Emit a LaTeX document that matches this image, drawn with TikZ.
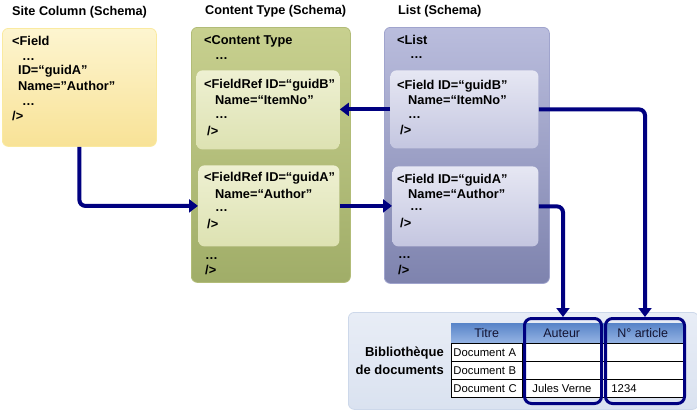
\documentclass[tikz,border=0pt]{standalone}
\usepackage{fontspec}
\setmainfont{Liberation Sans}
\usetikzlibrary{arrows.meta}
\definecolor{navy}{HTML}{000080}
\tikzset{
  panel/.style={anchor=north west, inner sep=0pt, rounded corners=6pt, line width=0.8pt},
  yel/.style={panel, draw={rgb,255:red,250;green,234;blue,160}, top color={rgb,255:red,253;green,245;blue,208}, bottom color={rgb,255:red,248;green,226;blue,150}},
  grn/.style={panel, draw={rgb,255:red,178;green,188;blue,120}, top color={rgb,255:red,200;green,208;blue,143}, bottom color={rgb,255:red,160;green,173;blue,104}},
  grnin/.style={panel, draw=none, top color={rgb,255:red,238;green,240;blue,210}, bottom color={rgb,255:red,221;green,226;blue,178}},
  blu/.style={panel, draw={rgb,255:red,160;green,164;blue,205}, top color={rgb,255:red,186;green,189;blue,221}, bottom color={rgb,255:red,126;green,131;blue,174}},
  bluin/.style={panel, draw=none, top color={rgb,255:red,230;green,231;blue,243}, bottom color={rgb,255:red,196;green,198;blue,224}},
  bot/.style={panel, draw={rgb,255:red,205;green,216;blue,234}, top color={rgb,255:red,232;green,237;blue,246}, bottom color={rgb,255:red,218;green,226;blue,240}},
  ttl/.style={anchor=west, inner sep=0pt, font=\fontsize{12.7}{14}\selectfont\bfseries},
  code/.style={anchor=west, inner sep=0pt, font=\fontsize{12.8}{14}\selectfont\bfseries},
  dots/.style={anchor=west, inner sep=0pt, font=\fontsize{12.8}{14}\selectfont\bfseries, text height=2pt, text depth=0pt},
  conn/.style={draw=navy, line width=4pt, rounded corners=6pt, -{Triangle[width=13pt,length=9pt]}},
  hdr/.style={anchor=north west, inner sep=0pt, minimum height=20pt, font=\fontsize{12.5}{14}\selectfont, text={rgb,255:red,20;green,20;blue,50}, top color={rgb,255:red,88;green,132;blue,200}, bottom color={rgb,255:red,150;green,180;blue,228}},
  cell/.style={anchor=north west, inner sep=0pt, draw=black, line width=0.9pt, fill=white, font=\fontsize{11.3}{12}\selectfont},
  hl/.style={anchor=north west, inner sep=0pt, draw=navy, line width=3pt, rounded corners=7pt}
}
\begin{document}
\begin{tikzpicture}[x=1pt,y=-1pt]
\useasboundingbox (0,0) rectangle (697,410);
% titles
\node[ttl] (t1) at (12,12) {Site Column (Schema)};
\node[ttl] (t2) at (205,11) {Content Type (Schema)};
\node[ttl] (t3) at (398,11) {List (Schema)};
% site column
\node[yel, minimum width=154pt, minimum height=118pt] (yc) at (2,28) {};
\node[code] (y1) at (12,41) {<Field};
\node[dots] (y2) at (22,59) {…};
\node[code] (y3) at (18,71) {ID=“guidA”};
\node[code] (y4) at (18,86) {Name=”Author”};
\node[dots] (y5) at (22,104) {…};
\node[code] (y6) at (12,116) {/>};
% content type
\node[grn, minimum width=159pt, minimum height=255pt] (ct) at (191,27) {};
\node[code] (c1) at (204,41) {<Content Type};
\node[dots] (c2) at (215,58) {…};
\node[grnin, minimum width=143pt, minimum height=79pt] (gi1) at (196,70) {};
\node[code] (c3) at (204,85) {<FieldRef ID=“guidB”};
\node[code] (c4) at (215,100) {Name=“ItemNo”};
\node[dots] (c5) at (215,117) {…};
\node[code] (c6) at (207,131) {/>};
\node[grnin, minimum width=141pt, minimum height=81pt] (gi2) at (198,165) {};
\node[code] (c7) at (204,178) {<FieldRef ID=“guidA”};
\node[code] (c8) at (215,194) {Name=“Author”};
\node[dots] (c9) at (215,210) {…};
\node[code] (c10) at (207,224) {/>};
\node[dots] (c11) at (205,258) {…};
\node[code] (c12) at (205,270) {/>};
% list
\node[blu, minimum width=165pt, minimum height=256pt] (ls) at (384,27) {};
\node[code] (l1) at (397,40) {<List};
\node[dots] (l2) at (410,57) {…};
\node[bluin, minimum width=148pt, minimum height=78pt] (bi1) at (390,70) {};
\node[code] (l3) at (397,86) {<Field ID=“guidB”};
\node[code] (l4) at (408,100) {Name=“ItemNo”};
\node[dots] (l5) at (408,117) {…};
\node[code] (l6) at (400,130) {/>};
\node[bluin, minimum width=146pt, minimum height=80pt] (bi2) at (392,166) {};
\node[code] (l7) at (397,180) {<Field ID=“guidA”};
\node[code] (l8) at (408,194) {Name=“Author”};
\node[dots] (l9) at (410,209) {…};
\node[code] (l10) at (400,223) {/>};
\node[dots] (l11) at (398,257) {…};
\node[code] (l12) at (398,270) {/>};
% bottom panel
\node[bot, minimum width=350pt, minimum height=97pt] (bp) at (348,312) {};
\node[anchor=east, inner sep=0pt, align=right, font=\fontsize{13}{18}\selectfont\bfseries] (lib) at (444,361) {Bibliothèque\\de documents};
% table header
\node[hdr, minimum width=71pt] (h1) at (451,323) {Titre};
\node[hdr, minimum width=79pt] (h2) at (522,323) {Auteur};
\node[hdr, minimum width=83pt] (h3) at (601,323) {N° article};
% rows
\node[cell, minimum width=71pt, minimum height=18pt, text width=69pt, align=left] (r1a) at (451,343) {\hspace*{1pt}Document A};
\node[cell, minimum width=79pt, minimum height=18pt] (r1b) at (522,343) {};
\node[cell, minimum width=83pt, minimum height=18pt] (r1c) at (601,343) {};
\node[cell, minimum width=71pt, minimum height=18pt, text width=69pt, align=left] (r2a) at (451,361) {\hspace*{1pt}Document B};
\node[cell, minimum width=79pt, minimum height=18pt] (r2b) at (522,361) {};
\node[cell, minimum width=83pt, minimum height=18pt] (r2c) at (601,361) {};
\node[cell, minimum width=71pt, minimum height=18pt, text width=69pt, align=left] (r3a) at (451,379) {\hspace*{1pt}Document C};
\node[cell, minimum width=79pt, minimum height=18pt] (r3b) at (522,379) {Jules Verne};
\node[cell, minimum width=83pt, minimum height=18pt, text width=75pt, align=left] (r3c) at (601,379) {\hspace*{6pt}1234};
% highlights
\node[hl, minimum width=77pt, minimum height=85pt] (hl1) at (523,317) {};
\node[hl, minimum width=79pt, minimum height=85pt] (hl2) at (604,317) {};
% connectors
\draw[conn] (yc.south) |- (gi2.west);
\draw[conn] (gi2.east) -- (bi2.west |- gi2.east);
\draw[conn] (bi1.west) -- (gi1.east |- bi1.west);
\draw[conn] (bi1.east) -| (hl2.north);
\draw[conn] (bi2.east) -| (hl1.north);
\end{tikzpicture}
\end{document}
